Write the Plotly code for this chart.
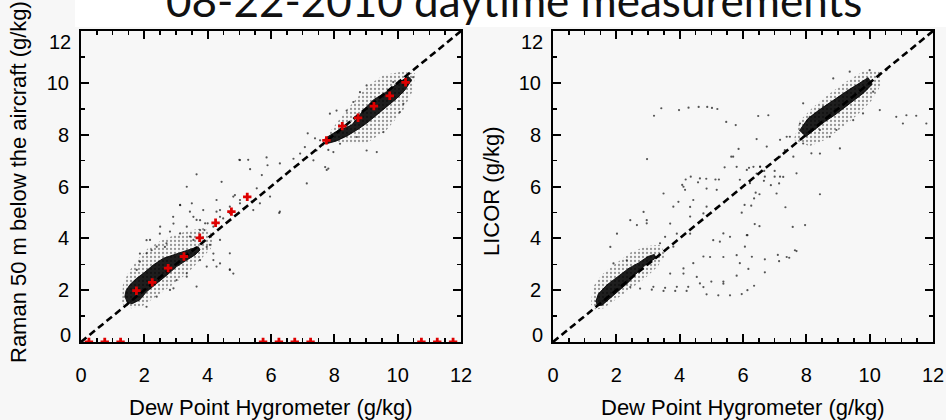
import plotly.graph_objects as go

# ---------------- data ----------------
title_text = "08-22-2010 daytime measurements"
x_title = "Dew Point Hygrometer (g/kg)"
y_title_left = "Raman 50 m below the aircraft (g/kg)"
y_title_right = "LICOR (g/kg)"

tick_vals = [0, 2, 4, 6, 8, 10, 12]
x_tick_text = ["0", "2", "4", "6", "8", "10", "12"]
y_tick_text = ["", "2", "4", "6", "8", "10", ""]

one_to_one_x = [0, 12]
one_to_one_y = [0, 12]

# binned means (red crosses), left panel
bin_x = [1.75, 2.25, 2.75, 3.25, 3.75, 4.25, 4.75, 5.25, 7.75, 8.25, 8.75, 9.25, 9.75, 10.25]
bin_y = [1.98, 2.30, 2.85, 3.30, 4.02, 4.60, 5.03, 5.60, 7.78, 8.33, 8.65, 9.10, 9.50, 10.02]
empty_bin_x = [0.25, 0.75, 1.25, 5.75, 6.25, 6.75, 7.25, 10.75, 11.25, 11.75]
empty_bin_y = [0, 0, 0, 0, 0, 0, 0, 0, 0, 0]

# dense cores / sparse haloes of the point clouds (outline vertices)
core_L_low_x = [1.38, 1.42, 1.55, 1.75, 1.97, 2.28, 2.60, 2.91, 3.23, 3.50, 3.70, 3.76, 3.60, 3.34, 3.02, 2.71, 2.39, 2.07, 1.85, 1.62, 1.45]
core_L_low_y = [1.72, 1.98, 2.22, 2.45, 2.65, 2.97, 3.23, 3.36, 3.48, 3.61, 3.68, 3.55, 3.36, 3.16, 2.91, 2.58, 2.26, 1.94, 1.62, 1.48, 1.52]
halo_L_low_x = [1.30, 1.32, 1.50, 1.80, 2.10, 2.50, 2.90, 3.40, 3.90, 4.20, 4.10, 3.80, 3.40, 3.00, 2.60, 2.20, 1.90, 1.60, 1.40]
halo_L_low_y = [1.50, 2.20, 2.70, 3.20, 3.60, 3.90, 4.10, 4.30, 4.40, 4.10, 3.60, 3.20, 2.70, 2.30, 1.95, 1.60, 1.35, 1.30, 1.35]
core_L_up_x = [7.70, 8.10, 8.55, 8.92, 9.23, 9.65, 10.07, 10.34, 10.44, 10.23, 9.97, 9.65, 9.34, 9.02, 8.71, 8.40, 8.05, 7.75]
core_L_up_y = [7.85, 8.15, 8.37, 8.95, 9.34, 9.66, 10.04, 10.24, 10.11, 9.72, 9.40, 9.08, 8.76, 8.44, 8.18, 7.95, 7.75, 7.65]
halo_L_up_x = [7.60, 7.86, 8.39, 9.02, 9.55, 10.13, 10.55, 10.49, 10.18, 9.65, 9.02, 8.39, 7.86]
halo_L_up_y = [7.45, 8.11, 8.95, 9.85, 10.30, 10.43, 10.37, 9.72, 8.95, 8.18, 7.67, 7.67, 7.79]

core_R_low_x = [1.35, 1.43, 1.70, 2.06, 2.40, 2.70, 3.00, 3.20, 3.25, 2.90, 2.60, 2.38, 2.10, 1.85, 1.55, 1.38]
core_R_low_y = [1.55, 1.85, 2.20, 2.55, 2.85, 3.05, 3.30, 3.38, 3.25, 2.95, 2.60, 2.30, 2.00, 1.72, 1.42, 1.40]
halo_R_low_x = [1.20, 1.25, 1.55, 1.95, 2.45, 2.95, 3.40, 3.55, 3.30, 2.90, 2.45, 2.00, 1.60, 1.35]
halo_R_low_y = [1.45, 2.10, 2.60, 3.00, 3.45, 3.70, 3.75, 3.35, 2.90, 2.45, 2.05, 1.65, 1.30, 1.25]
core_R_up_x = [7.78, 8.05, 8.40, 8.72, 9.04, 9.35, 9.67, 9.95, 10.08, 9.82, 9.52, 9.20, 8.90, 8.58, 8.26, 7.98]
core_R_up_y = [8.15, 8.62, 8.95, 9.22, 9.48, 9.74, 9.98, 10.20, 9.95, 9.62, 9.34, 9.04, 8.76, 8.50, 8.18, 7.92]
halo_R_up_x = [7.60, 7.80, 8.20, 8.70, 9.20, 9.80, 10.30, 10.35, 10.05, 9.60, 9.10, 8.60, 8.10]
halo_R_up_y = [7.80, 8.55, 9.05, 9.55, 10.00, 10.45, 10.45, 9.90, 9.30, 8.75, 8.25, 7.80, 7.55]

# sparse individual points
sparse_L_x = [3.34, 3.65, 4.44, 5.02, 5.34, 5.86, 6.28, 7.16, 7.39, 7.81, 7.76, 7.13, 6.28, 5.97, 5.71, 5.55, 5.39, 5.02,
              4.86, 4.70, 4.49, 4.28, 4.18, 3.92, 3.76, 3.55, 3.44, 4.07, 3.34, 4.28, 4.70, 3.13, 5.00, 5.28, 5.89,
              6.26, 4.81, 2.07, 1.86, 2.49, 2.92, 3.55, 3.76, 2.23, 2.65, 2.07, 2.39, 2.92, 3.34, 3.76, 4.18, 3.97,
              6.71, 6.92, 7.07, 7.44, 7.34, 7.71, 7.97, 7.55, 8.39, 8.07, 7.86, 9.02, 9.34, 10.07, 10.18, 9.86,
              9.02, 8.81, 8.60, 10.49, 9.55, 8.71, 8.18, 7.81, 3.13, 3.50, 3.44, 2.91, 2.50, 2.81, 2.18, 2.07,
              1.86, 1.76, 3.90, 4.00, 4.39, 4.39, 4.70, 5.02, 4.81, 5.44, 5.65, 4.28, 3.86, 4.39, 4.70, 4.39,
              3.97, 4.70, 3.34, 3.02, 2.81, 3.65, 4.18, 3.13, 3.34, 3.65, 2.70, 2.39]
sparse_L_y = [5.99, 6.47, 6.18, 7.02, 6.67, 7.12, 6.89, 8.05, 7.86, 7.41, 6.64, 6.12, 5.03, 5.61, 6.44, 5.93, 5.42, 5.35,
              5.67, 4.97, 4.77, 5.03, 4.45, 4.58, 4.32, 3.94, 4.07, 3.75, 3.29, 2.91, 2.80, 5.28, 7.03, 7.03, 6.82,
              4.98, 2.64, 3.93, 3.41, 4.18, 4.57, 4.83, 4.70, 3.54, 3.67, 1.36, 1.75, 2.07, 2.52, 3.16, 3.41, 3.67,
              7.07, 7.27, 7.52, 7.39, 7.01, 6.75, 7.33, 7.78, 8.93, 8.93, 8.81, 7.39, 7.33, 8.87, 9.19, 10.03,
              9.90, 9.64, 9.26, 10.22, 8.10, 7.91, 7.65, 6.69, 5.29, 5.35, 5.03, 4.83, 4.45, 4.26, 3.94, 3.42,
              3.10, 2.78, 4.32, 4.58, 4.83, 5.09, 5.22, 5.48, 5.61, 5.09, 5.35, 5.48, 5.09, 3.94, 3.42, 3.03,
              2.91, 2.78, 2.65, 2.39, 2.01, 2.14, 3.16, 4.19, 4.45, 4.71, 3.81, 3.68]

sparse_R_x = [3.42, 3.19, 3.98, 4.28, 4.60, 4.87, 5.02, 5.19, 5.47, 5.77, 5.86, 5.63, 5.42, 2.97, 6.19, 4.35, 4.19, 4.84,
              5.13, 5.24, 4.58, 4.08, 8.43, 7.34, 7.96, 7.57, 6.37, 6.52, 6.14, 7.69, 7.10, 7.46, 7.14, 6.28, 6.69,
              6.17, 6.69, 6.35, 6.14, 5.96, 5.96, 6.26, 6.05, 6.35, 6.40, 6.52, 6.88, 7.14, 6.69, 7.17, 6.66, 7.00,
              6.67, 2.44, 2.75, 3.12, 3.49, 3.86, 4.22, 4.85, 5.22, 5.59, 4.75, 5.38, 4.54, 4.12, 3.70, 4.96, 5.38,
              5.80, 7.38, 7.64, 7.06, 3.70, 2.65, 2.96, 3.49, 4.12, 4.64, 4.85, 3.96, 4.33, 4.75, 2.86, 2.44, 2.02,
              1.81, 1.91, 2.33, 3.91, 4.33, 5.06, 5.59, 5.80, 6.33, 5.69, 6.54, 7.32, 7.48, 7.90, 8.43, 8.74, 8.95,
              9.06, 9.48, 9.79, 10.32, 10.84, 11.16, 11.47, 11.79, 11.05, 8.85, 9.37, 10.00, 10.32, 8.95, 8.53,
              7.90, 8.11, 10.11, 7.27, 6.43, 10.53, 6.48, 6.80, 6.43, 8.43, 8.16, 7.80, 5.90, 5.80, 5.38, 5.00,
              4.64, 4.27, 3.91, 3.54, 3.17, 4.33, 4.43, 4.17, 3.80, 2.96, 3.54, 5.38, 5.27, 6.12, 6.06, 4.75, 4.43,
              4.12, 3.80, 3.38, 4.85, 5.17, 5.90, 6.22, 6.12, 6.54, 6.75, 7.17, 7.38, 7.59, 7.69, 7.00, 7.17]
sparse_R_y = [9.02, 8.73, 8.95, 9.04, 9.07, 9.07, 9.03, 8.99, 8.49, 8.37, 7.45, 7.15, 6.74, 7.06, 6.72, 6.38, 6.27, 6.30,
              6.27, 6.27, 6.16, 6.06, 5.70, 5.20, 4.51, 4.44, 4.55, 4.47, 4.12, 3.51, 3.36, 3.25, 3.12, 3.29, 3.19,
              2.82, 2.69, 2.17, 2.00, 1.85, 4.99, 5.26, 5.29, 5.54, 5.76, 5.70, 6.05, 6.12, 6.38, 6.38, 6.22, 6.60,
              6.60, 2.12, 2.06, 2.02, 1.97, 1.97, 1.97, 1.84, 1.80, 1.80, 2.12, 2.25, 2.51, 2.64, 2.64, 3.28, 3.28,
              3.35, 3.28, 3.54, 5.73, 4.57, 4.51, 4.70, 5.73, 5.99, 6.31, 5.92, 5.41, 5.21, 4.96, 5.02, 4.70, 4.18,
              3.67, 3.03, 3.15, 4.18, 4.18, 3.93, 4.06, 6.76, 6.76, 7.15, 6.76, 7.40, 7.92, 7.66, 7.27, 7.92, 8.18,
              7.47, 8.56, 8.82, 8.95, 8.69, 8.75, 8.73, 8.43, 8.43, 10.17, 10.43, 10.49, 10.36, 9.21, 9.08,
              9.21, 8.69, 9.66, 6.37, 6.50, 10.49, 8.72, 8.75, 7.83, 8.18, 7.28, 8.43, 3.04, 2.56, 2.33, 2.33,
              2.26, 2.13, 2.13, 2.09, 2.13, 4.84, 5.48, 5.87, 5.22, 4.58, 4.06, 4.19, 3.87, 4.12, 3.68, 3.30, 3.04,
              2.84, 3.68, 3.81, 5.22, 5.87, 6.26, 6.13, 6.64, 6.77, 7.54, 7.80, 7.92, 7.15, 6.51, 6.38, 7.15]

# ---------------- figure ----------------
W, H = 946, 420
BG = "#f7f7f7"
TICK_FONT = dict(family="Liberation Sans, Arial, sans-serif", size=20, color="black")
TITLE_FONT = dict(family="Liberation Sans, Arial, sans-serif", size=22, color="black")

fig = go.Figure()


def add_panel(xa, ya, halos, cores, sx, sy):
    for hx, hy in halos:
        fig.add_trace(go.Scatter(x=hx, y=hy, xaxis=xa, yaxis=ya, mode="lines", fill="toself",
                                 line=dict(width=0), fillcolor="rgba(0,0,0,0)",
                                 fillpattern=dict(shape=".", fgcolor="#333333", size=4, solidity=0.25,
                                                  fgopacity=0.5, bgcolor="rgba(0,0,0,0)"),
                                 hoverinfo="skip"))
    for cx, cy in cores:
        fig.add_trace(go.Scatter(x=cx, y=cy, xaxis=xa, yaxis=ya, mode="lines", fill="toself",
                                 line=dict(width=1, color="rgba(0,0,0,0.85)"),
                                 fillcolor="rgba(0,0,0,0.88)", hoverinfo="skip"))
    fig.add_trace(go.Scatter(x=sx, y=sy, xaxis=xa, yaxis=ya, mode="markers",
                             marker=dict(size=2.2, color="rgba(30,30,30,0.75)", line=dict(width=0)),
                             hoverinfo="skip"))
    fig.add_trace(go.Scatter(x=one_to_one_x, y=one_to_one_y, xaxis=xa, yaxis=ya, mode="lines",
                             line=dict(color="black", width=2.6, dash="7px,4px"), hoverinfo="skip"))


add_panel("x", "y",
          [(halo_L_low_x, halo_L_low_y), (halo_L_up_x, halo_L_up_y)],
          [(core_L_low_x, core_L_low_y), (core_L_up_x, core_L_up_y)],
          sparse_L_x, sparse_L_y)
add_panel("x2", "y2",
          [(halo_R_low_x, halo_R_low_y), (halo_R_up_x, halo_R_up_y)],
          [(core_R_low_x, core_R_low_y), (core_R_up_x, core_R_up_y)],
          sparse_R_x, sparse_R_y)

fig.add_trace(go.Scatter(x=bin_x, y=bin_y, xaxis="x", yaxis="y", mode="markers",
                         marker=dict(symbol="cross", size=7, color="#dd0000", line=dict(width=0)),
                         hoverinfo="skip"))
fig.add_trace(go.Scatter(x=empty_bin_x, y=empty_bin_y, xaxis="x", yaxis="y", mode="markers",
                         marker=dict(symbol="cross", size=7, color="#dd0000", line=dict(width=0)),
                         hoverinfo="skip"))


def px(x):
    return x / W


def py(y):
    return 1 - y / H


xdom_L = [px(81), px(461)]
xdom_R = [px(553), px(933)]
ydom = [py(342), py(31)]

axis_common = dict(range=[0, 12], showgrid=False, zeroline=False, showline=True, linecolor="black",
                   linewidth=2, mirror="ticks", ticks="inside", ticklen=8, tickwidth=2,
                   tickcolor="black", tickmode="array", tickvals=tick_vals, tickfont=TICK_FONT,
                   fixedrange=True, automargin=False)
xmin = dict(ticks="inside", dtick=0.5, tick0=0, ticklen=4, tickwidth=1.5, tickcolor="black")
ymin = dict(ticks="inside", dtick=1, tick0=0, ticklen=4, tickwidth=1.5, tickcolor="black")

fig.update_layout(
    template="none",
    width=W, height=H, margin=dict(l=0, r=0, t=0, b=0, pad=0), autosize=False,
    paper_bgcolor=BG, plot_bgcolor=BG, showlegend=False, hovermode=False,
    xaxis=dict(axis_common, domain=xdom_L, anchor="y", ticktext=x_tick_text, minor=xmin, ticklabelstandoff=14),
    yaxis=dict(axis_common, domain=ydom, anchor="x", ticktext=y_tick_text, minor=ymin, ticklabelstandoff=6),
    xaxis2=dict(axis_common, domain=xdom_R, anchor="y2", ticktext=x_tick_text, minor=xmin, ticklabelstandoff=14),
    yaxis2=dict(axis_common, domain=ydom, anchor="x2", ticktext=y_tick_text, minor=ymin, ticklabelstandoff=6),
)

# white band behind the title
fig.add_shape(type="rect", xref="paper", yref="paper", x0=px(75), x1=1, y0=py(27), y1=1.02,
              fillcolor="white", line=dict(width=0), layer="below")

annots = [
    dict(text=title_text, x=px(514), y=py(0), xanchor="center", yanchor="middle",
         font=dict(family="Lato, Open Sans, sans-serif", size=44, color="#111111")),
    dict(text=x_title, x=px(271), y=py(407), xanchor="center", yanchor="middle", font=TITLE_FONT),
    dict(text=x_title, x=px(743), y=py(407), xanchor="center", yanchor="middle", font=TITLE_FONT),
    dict(text=y_title_left, x=px(18), y=py(182), textangle=-90, xanchor="center", yanchor="middle", font=TITLE_FONT),
    dict(text=y_title_right, x=px(492), y=py(191), textangle=-90, xanchor="center", yanchor="middle", font=TITLE_FONT),
]
for xr, yr in (("x domain", "y"), ("x2 domain", "y2")):
    annots.append(dict(text="12", xref=xr, yref=yr, x=0, y=11.59, xanchor="right", yanchor="middle",
                       xshift=-8, font=TICK_FONT))
    annots.append(dict(text="0", xref=xr, yref=yr, x=0, y=0.27, xanchor="right", yanchor="middle",
                       xshift=-8, font=TICK_FONT))
for a in annots:
    a.setdefault("xref", "paper")
    a.setdefault("yref", "paper")
    a["showarrow"] = False
    fig.add_annotation(**a)

fig.write_html("out.html", config={"displayModeBar": False, "staticPlot": True},
               post_script="document.body.style.margin='0';document.body.style.overflow='hidden';")
